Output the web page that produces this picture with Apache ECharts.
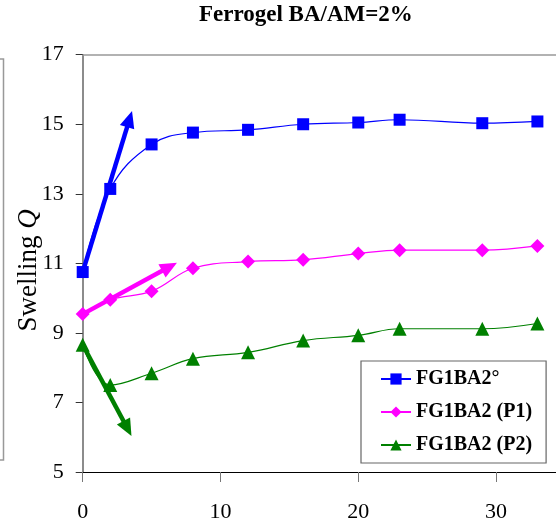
<!DOCTYPE html>
<html>
<head>
<meta charset="utf-8">
<script src="https://cdn.jsdelivr.net/npm/echarts@6/dist/echarts.min.js"></script>
<style>html,body{margin:0;padding:0;background:#fff}#c{width:556px;height:527px}</style>
</head>
<body>
<div id="c"></div>
<script>
// Data
const timeX = [0, 2, 5, 8, 12, 16, 20, 23, 29, 33];
const fg1ba2 = [10.75, 13.14, 14.42, 14.76, 14.84, 15.0, 15.05, 15.13, 15.03, 15.08];
const fg1ba2P1 = [9.54, 9.95, 10.2, 10.86, 11.05, 11.1, 11.28, 11.38, 11.38, 11.5];
const fg1ba2P2 = [8.66, 7.5, 7.84, 8.26, 8.44, 8.78, 8.93, 9.12, 9.12, 9.27];
const arrowBlue = [[0, 10.75], [3.4, 15.15]];
const arrowPink = [[0, 9.54], [6.3, 10.9]];
const arrowGreen = [[0, 8.66], [3.25, 6.25]];
const seriesNames = ['FG1BA2°', 'FG1BA2 (P1)', 'FG1BA2 (P2)'];
const yTicks = [5, 7, 9, 11, 13, 15, 17];
const xTicks = [0, 10, 20, 30];

const zip = (xs, ys) => xs.map((x, i) => [x, ys[i]]);
const FONT = '"Liberation Serif", "Times New Roman", serif';

function arrow(pts, color) {
  return {
    silent: true,
    symbol: ['none', 'triangle'],
    symbolSize: [15, 17],
    label: {show: false},
    lineStyle: {color: color, width: 4.5, type: 'solid'},
    itemStyle: {color: color},
    animation: false,
    data: [[{coord: pts[0]}, {coord: pts[1]}]]
  };
}

const chart = echarts.init(document.getElementById('c'), null, {renderer: 'canvas'});
chart.setOption({
  animation: false,
  backgroundColor: '#fff',
  title: {
    text: 'Ferrogel BA/AM=2%',
    left: 199, top: 4, padding: 0,
    textStyle: {fontFamily: FONT, fontWeight: 'bold', fontSize: 23, color: '#000'}
  },
  graphic: [{
    type: 'rect', silent: true,
    shape: {x: -10, y: 59, width: 13.5, height: 401},
    style: {fill: 'none', stroke: '#999', lineWidth: 1.5}
  }],
  legend: {
    orient: 'vertical',
    left: 361, top: 361,
    padding: [8, 14, 8, 19],
    itemGap: 13,
    itemWidth: 30, itemHeight: 14,
    itemTextGap: 5,
    borderColor: '#666', borderWidth: 1.2,
    backgroundColor: '#fff',
    textStyle: {fontFamily: FONT, fontWeight: 'bold', fontSize: 20, color: '#000'},
    data: seriesNames
  },
  grid: {left: 82.7, right: 0, top: 54.7, bottom: 55, containLabel: false, outerBoundsMode: 'none'},
  xAxis: [{
    type: 'value', min: 0, max: 34.35, interval: 10,
    axisLine: {show: true, onZero: false, lineStyle: {color: '#000', width: 1}},
    axisTick: {show: true, inside: false, length: 10, lineStyle: {color: '#777'}},
    axisLabel: {
      margin: 29, fontFamily: FONT, fontSize: 22, color: '#000',
      formatter: v => xTicks.includes(v) ? String(v) : ''
    },
    splitLine: {show: false}
  }, {
    type: 'value', position: 'top', min: 0, max: 34.35,
    axisLine: {show: true, onZero: false, lineStyle: {color: '#999', width: 1.5}},
    axisTick: {show: false}, axisLabel: {show: false}, splitLine: {show: false}
  }],
  yAxis: {
    type: 'value', min: 5, max: 17, interval: 2,
    name: 'Swelling {q|Q}',
    nameLocation: 'middle', nameGap: 40, nameRotate: 90, nameMoveOverlap: false,
    nameTextStyle: {fontFamily: FONT, fontSize: 27, color: '#000', padding: [0, 14, 0, 0],
      rich: {q: {fontFamily: FONT, fontSize: 27, fontStyle: 'italic', color: '#000'}}},
    axisLine: {show: true, onZero: false, lineStyle: {color: '#666', width: 1.5}},
    axisTick: {show: true, inside: false, length: 7, lineStyle: {color: '#333'}},
    axisLabel: {
      margin: 19, fontFamily: FONT, fontSize: 22, color: '#000',
      formatter: v => yTicks.includes(v) ? String(v) : ''
    },
    splitLine: {show: false}
  },
  series: [{
    name: seriesNames[0], type: 'line', smooth: 0.4,
    data: zip(timeX, fg1ba2),
    symbol: 'rect', symbolSize: 12,
    lineStyle: {color: '#0000ff', width: 1.2},
    itemStyle: {color: '#0000ff'},
    markLine: arrow(arrowBlue, '#0000ff'),
    z: 3
  }, {
    name: seriesNames[1], type: 'line', smooth: 0.4,
    data: zip(timeX, fg1ba2P1),
    symbol: 'diamond', symbolSize: 14,
    lineStyle: {color: '#ff00ff', width: 1.2},
    itemStyle: {color: '#ff00ff'},
    markLine: arrow(arrowPink, '#ff00ff'),
    z: 3
  }, {
    name: seriesNames[2], type: 'line', smooth: 0.4,
    data: zip(timeX, fg1ba2P2),
    symbol: 'triangle', symbolSize: 14,
    lineStyle: {color: '#008000', width: 1.2},
    itemStyle: {color: '#008000'},
    markLine: arrow(arrowGreen, '#008000'),
    z: 3
  }]
});
</script>
</body>
</html>
